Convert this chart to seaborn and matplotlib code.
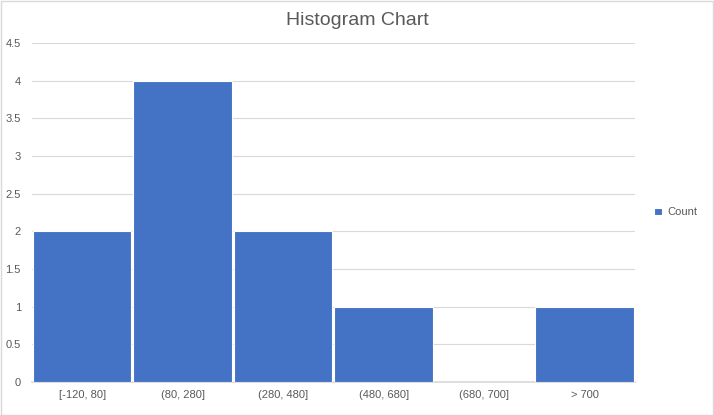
import matplotlib
matplotlib.use("Agg")
import matplotlib.pyplot as plt
import seaborn as sns
import pandas as pd
from matplotlib.patches import Rectangle

categories = ["[-120, 80]", "(80, 280]", "(280, 480]", "(480, 680]", "(680, 700]", "> 700"]
counts = [2, 4, 2, 1, 0, 1]
yticks = [0, 0.5, 1, 1.5, 2, 2.5, 3, 3.5, 4, 4.5]

sns.set_theme(style="white")
plt.rcParams['font.family'] = ['Liberation Sans', 'DejaVu Sans']
df = pd.DataFrame({"bin": categories, "Count": counts})

fig = plt.figure(figsize=(7.14, 4.15), dpi=100)
ax = fig.add_axes([0.0448, 0.0795, 0.8442, 0.817])
sns.barplot(data=df, x="bin", y="Count", color="#4472C4", width=0.98, saturation=1,
            edgecolor="white", linewidth=0.8, ax=ax, label="Count", zorder=3)
ax.set_ylim(0, 4.5)
ax.set_yticks(yticks)
ax.set_yticklabels([f"{t:g}" for t in yticks], fontsize=8, color="#595959")
ax.tick_params(axis="x", labelsize=8, colors="#595959", length=0, pad=6)
ax.tick_params(axis="y", length=0, pad=8)
ax.set_xlim(-0.5, 5.5)
ax.grid(axis="y", color="#D9D9D9", linewidth=0.8, zorder=0)
for s in ["top", "right", "left"]:
    ax.spines[s].set_visible(False)
ax.spines["bottom"].set_color("#D9D9D9")
ax.set_xlabel("")
ax.set_ylabel("")
fig.text(0.5, 0.95, "Histogram Chart", ha="center", va="center", fontsize=14, color="#595959")
leg = ax.legend(loc="center left", bbox_to_anchor=(1.015, 0.5), frameon=False, fontsize=8,
                handlelength=0.7, handleheight=0.7, handletextpad=0.5)
for t in leg.get_texts():
    t.set_color("#595959")
fig.patches.append(Rectangle((0.001, 0.001), 0.997, 0.997, transform=fig.transFigure,
                             fill=False, edgecolor="#D9D9D9", linewidth=1))
fig.savefig("out.png", dpi=100)
